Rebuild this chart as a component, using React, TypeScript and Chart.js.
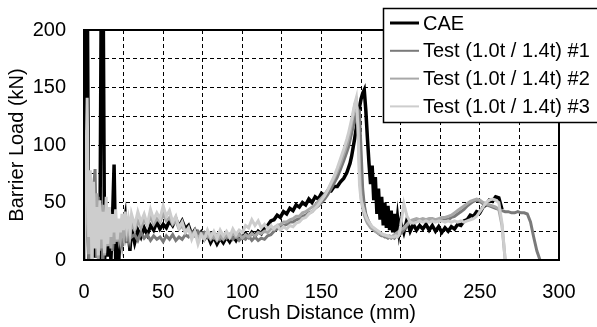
import React, { useEffect, useRef } from 'react';
import { Chart, registerables } from 'chart.js';

Chart.register(...registerables);

// Crush distance (mm) sampling positions
const crushMm = [
  0, 1, 2, 3, 4, 5, 6, 7, 8, 9, 10, 11, 12, 13, 14, 15, 16, 17, 18, 19, 20, 21, 22, 23, 24, 25, 26, 27, 28, 29, 30,
  32, 34, 36, 38, 40, 42, 44, 46, 48, 50, 52, 54, 56, 58, 60, 62, 64, 66, 68, 70,
  72, 74, 76, 78, 80, 82, 84, 86, 88, 90, 92, 94, 96, 98, 100, 102, 104, 106, 108, 110,
  112, 114, 116, 118, 120, 122, 124, 126, 128, 130, 132, 134, 136, 138, 140, 142, 144, 146, 148, 150,
  152, 154, 156, 158, 160, 162, 164, 166,
  167, 168, 169, 170, 171, 172, 173, 174, 175, 176, 177, 178, 179, 180, 181, 182, 183, 184, 185, 186,
  187, 188, 189, 190, 191, 192, 193, 194, 195, 196, 197, 198, 199, 200,
  202, 204, 206, 208, 210, 212, 214, 216, 218, 220, 222, 224, 226, 228, 230, 232, 234, 236, 238, 240,
  242, 244, 246, 248, 250, 252, 254, 256, 258, 260, 262, 264, 266, 268, 270, 272, 274, 276, 278, 280,
  282, 284, 286, 288, 290,
];

const N = null;

const caeLoad = [
  0, 260, 260, 0, 35, 8, 40, 2, 28, 5, 0, 260, 260, 0, 22, 3, 30, 0, 35, 83, 0, 25, 0, 32, 12, 30, 38, 15, 33, 8, 28,
  15, 26, 20, 28, 22, 30, 26, 33, 27, 31, 28, 34, 30, 36, 29, 34, 27, 30, 22, 26,
  20, 24, 18, 22, 15, 20, 14, 19, 15, 20, 16, 21, 17, 22, 19, 23, 20, 24, 21, 25,
  23, 28, 30, 34, 35, 39, 37, 42, 40, 45, 43, 48, 46, 50, 48, 53, 50, 55, 53, 58,
  56, 60, 60, 64, 64, 68, 71, 76,
  80, 84, 90, 98, 106, 115, 125, 133, 140, 145, 148, 130, 106, 84, 66, 82, 52, 72, 40, 62,
  35, 55, 30, 50, 28, 47, 26, 43, 24, 40, 23, 37, 24, 33,
  24, 35, 25, 31, 26, 30, 27, 31, 26, 30, 25, 29, 24, 28, 25, 29, 27, 31, 30, 34,
  35, 39, 38, 42, 41, 46, 48, 52, 51, 55, 54, 44, N, N, N, N, N, N, N, N,
  N, N, N, N, N,
];

const test1Load = [
  0, 113, 30, 0, 50, 12, 62, 79, 2, 55, 8, 42, 0, 36, 12, 40, 14, 32, 8, 28, 16, 33, 19, 27, 15, 30, 20, 28, 18, 25, 20,
  22, 17, 24, 19, 22, 17, 21, 18, 20, 16, 21, 18, 22, 17, 20, 18, 22, 20, 24, 21,
  25, 22, 24, 20, 23, 19, 22, 18, 21, 19, 22, 18, 21, 17, 20, 18, 21, 17, 20, 17,
  19, 18, 21, 22, 25, 27, 28, 30, 31, 33, 33, 35, 36, 38, 39, 41, 42, 45, 47, 50,
  53, 57, 62, 67, 72, 79, 86, 94,
  98, 104, 110, 116, 122, 127, 131, 128, 95, 62, 48, 40, 36, 33, 30, 28, 27, 25, 24, 23,
  22, 21, 21, 20, 20, 19, 20, 19, 20, 19, 21, 20, 22, 23,
  26, 30, 33, 34, 35, 34, 35, 34, 35, 34, 35, 34, 35, 36, 35, 37, 38, 40, 42, 44,
  47, 49, 51, 52, 51, 49, 48, 47, 46, 45, 44, 43, 42, 42, 41, 41, 42, 41, 41, 40,
  33, 20, 8, 0, N,
];

const test2Load = [
  0, 90, 40, 5, 62, 0, 42, 14, 58, 0, 38, 10, 48, 4, 30, 12, 38, 10, 34, 14, 30, 16, 32, 18, 28, 20, 32, 22, 30, 20, 32,
  26, 34, 28, 36, 30, 38, 31, 36, 33, 40, 34, 37, 31, 34, 27, 30, 24, 27, 21, 24,
  20, 23, 19, 22, 18, 21, 17, 21, 18, 22, 19, 23, 20, 22, 19, 22, 20, 23, 21, 24,
  23, 25, 24, 27, 28, 30, 31, 33, 33, 35, 36, 38, 38, 41, 42, 44, 46, 48, 51, 54,
  57, 61, 66, 71, 77, 84, 92, 100,
  105, 111, 118, 126, 135, 138, 120, 80, 55, 45, 39, 35, 32, 30, 28, 27, 26, 25, 24, 23,
  23, 22, 22, 21, 21, 20, 21, 20, 21, 22, 23, 24, 25, 26,
  28, 31, 34, 35, 36, 35, 36, 35, 36, 36, 35, 36, 37, 37, 38, 39, 41, 43, 45, 47,
  49, 51, 52, 53, 52, 50, 49, 48, 47, 46, 44, 30, 0, N, N, N, N, N, N, N,
  N, N, N, N, N,
];

const test3Load = [
  0, 60, 141, 20, 78, 0, 68, 10, 46, 4, 52, 18, 42, 6, 55, 14, 46, 20, 40, 24, 44, 18, 36, 24, 40, 26, 42, 28, 36, 26, 40,
  30, 42, 33, 40, 31, 44, 35, 41, 36, 47, 38, 43, 33, 38, 28, 33, 24, 28, 18, 25,
  14, 22, 18, 26, 20, 25, 19, 26, 21, 25, 20, 27, 22, 26, 24, 30, 28, 35, 30, 34,
  28, 31, 27, 30, 27, 30, 26, 29, 27, 30, 29, 32, 33, 36, 37, 40, 42, 45, 48, 52,
  56, 61, 67, 73, 80, 88, 96, 105,
  110, 116, 122, 129, 136, 141, 115, 65, 52, 47, 42, 38, 35, 33, 31, 29, 28, 27, 26, 25,
  24, 23, 22, 22, 21, 21, 20, 20, 20, 20, 21, 20, 22, 30,
  49, 38, 33, 32, 33, 34, 33, 34, 33, 34, 33, 34, 34, 33, 34, 33, 34, 33, 34, 33,
  34, 35, 36, 38, 42, 46, 50, 52, 53, 52, 50, 32, 0, N, N, N, N, N, N, N,
  N, N, N, N, N,
];

const seriesNames = ['CAE', 'Test (1.0t / 1.4t) #1', 'Test (1.0t / 1.4t) #2', 'Test (1.0t / 1.4t) #3'];
const seriesColors = ['#000000', '#7a7a7a', '#a8a8a8', '#cdcdcd'];
const seriesWidths = [3.5, 3, 3, 3];
const seriesValues = [caeLoad, test1Load, test2Load, test3Load];

const xTitle = 'Crush Distance (mm)';
const yTitle = 'Barrier Load (kN)';

const FONT = '"Liberation Sans", Arial, sans-serif';
const FS = 20;

function toPoints(vals: (number | null)[]) {
  const pts: { x: number; y: number }[] = [];
  for (let i = 0; i < crushMm.length; i++) {
    const v = vals[i];
    if (v !== null && v !== undefined) pts.push({ x: crushMm[i], y: v });
  }
  return pts;
}

const frameLegendPlugin = {
  id: 'frameLegend',
  afterDatasetsDraw(chart: any) {
    const { ctx, chartArea } = chart;
    ctx.save();
    ctx.strokeStyle = '#000';
    ctx.lineWidth = 2;
    ctx.strokeRect(chartArea.left, chartArea.top, chartArea.right - chartArea.left, chartArea.bottom - chartArea.top);
    ctx.restore();
  },
  afterDraw(chart: any) {
    const ctx = chart.ctx;
    ctx.save();
    const bx = 383, by = 8, bw = 260, bh = 115;
    ctx.fillStyle = '#fff';
    ctx.fillRect(bx, by, bw, bh);
    ctx.strokeStyle = '#000';
    ctx.lineWidth = 1.5;
    ctx.strokeRect(bx + 0.5, by + 0.5, bw, bh - 1);
    ctx.font = `${FS}px ${FONT}`;
    ctx.textBaseline = 'middle';
    ctx.textAlign = 'left';
    for (let i = 0; i < seriesNames.length; i++) {
      const cy = 23 + i * 27.8;
      ctx.beginPath();
      ctx.strokeStyle = seriesColors[i];
      ctx.lineWidth = i === 0 ? 3 : 2;
      ctx.moveTo(390, cy);
      ctx.lineTo(419, cy);
      ctx.stroke();
      ctx.fillStyle = '#000';
      ctx.fillText(seriesNames[i], 423, cy + 1);
    }
    ctx.restore();
  },
};

export default function App() {
  const ref = useRef<HTMLCanvasElement | null>(null);

  useEffect(() => {
    if (!ref.current) return;
    const datasets = seriesNames.map((name, i) => ({
      label: name,
      data: toPoints(seriesValues[i]),
      borderColor: seriesColors[i],
      backgroundColor: seriesColors[i],
      borderWidth: seriesWidths[i],
      pointRadius: 0,
      tension: 0,
      fill: false,
      order: seriesNames.length - i,
      spanGaps: false,
    }));
    const chart = new Chart(ref.current, {
      type: 'line',
      data: { datasets },
      options: {
        animation: false,
        responsive: false,
        maintainAspectRatio: false,
        layout: { padding: { top: 25, right: 38, left: 0, bottom: 0 } },
        plugins: { legend: { display: false }, tooltip: { enabled: false } },
        scales: {
          x: {
            type: 'linear',
            min: 0,
            max: 300,
            afterFit: (s: any) => { s.height = 67; },
            grid: { color: '#000', lineWidth: 1, drawTicks: false },
            border: { display: false, dash: [4, 3] },
            ticks: {
              stepSize: 25,
              padding: 20,
              autoSkip: false,
              maxRotation: 0,
              color: '#000',
              font: { family: FONT, size: FS },
              callback: (v: any) => (Number(v) % 50 === 0 ? String(v) : ''),
            },
            title: {
              display: true,
              text: xTitle,
              color: '#000',
              font: { family: FONT, size: FS },
              padding: { top: 0, bottom: 2 },
            },
          },
          y: {
            type: 'linear',
            min: 0,
            max: 200,
            afterFit: (s: any) => { s.width = 84; },
            grid: { color: '#000', lineWidth: 1, drawTicks: false },
            border: { display: false, dash: [4, 3] },
            ticks: {
              stepSize: 25,
              padding: 18,
              autoSkip: false,
              color: '#000',
              font: { family: FONT, size: FS },
              callback: (v: any) => (Number(v) % 50 === 0 ? String(v) : ''),
            },
            title: {
              display: true,
              text: yTitle,
              color: '#000',
              font: { family: FONT, size: FS },
              padding: { top: 5, bottom: 0 },
            },
          },
        },
      },
      plugins: [frameLegendPlugin],
    });
    return () => chart.destroy();
  }, []);

  return (
    <div style={{ position: 'absolute', left: 0, top: 0, width: 597, height: 327, background: '#fff' }}>
      <canvas ref={ref} width={597} height={327} style={{ width: 597, height: 327, display: 'block' }} />
    </div>
  );
}
